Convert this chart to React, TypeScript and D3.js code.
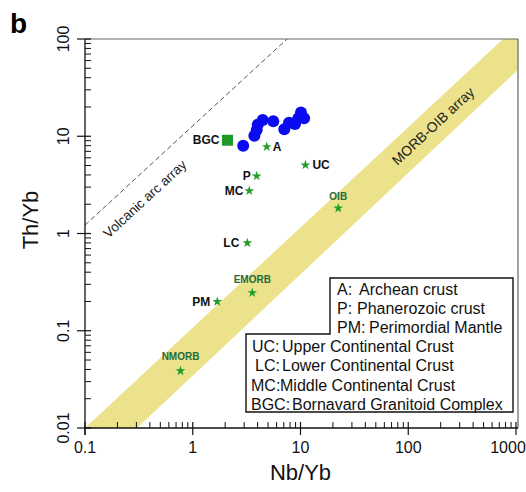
import * as d3 from "d3";

const W = 526;
const H = 492;
const m = { top: 39, right: 10, bottom: 64, left: 85 };

// axes
const X_TICKS = [0.1, 1, 10, 100, 1000];
const X_TICK_LABELS = ["0.1", "1", "10", "100", "1000"];
const Y_TICKS = [0.01, 0.1, 1, 10, 100];
const Y_TICK_LABELS = ["0.01", "0.1", "1", "10", "100"];

// samples (blue dots)
const sampleNb = [2.94, 3.73, 3.92, 4.01, 4.46, 5.59, 7.07, 7.82, 8.89, 10.1, 10.8, 9.54];
const sampleTh = [8.0, 10.1, 11.6, 13.1, 14.7, 14.3, 11.8, 13.8, 13.4, 17.5, 15.3, 15.3];

// BGC average (square)
const bgcNb = 2.1;
const bgcTh = 9.1;

// reference compositions (stars)
const refNames = ["A", "UC", "P", "MC", "LC", "PM", "EMORB", "OIB", "NMORB"];
const refNb = [4.86, 11.1, 3.92, 3.35, 3.21, 1.69, 3.57, 22.4, 0.77];
const refTh = [7.8, 5.06, 3.9, 2.75, 0.8, 0.199, 0.246, 1.82, 0.0386];

// MORB-OIB array boundaries
const bandUpperNb = [0.1, 757];
const bandUpperTh = [0.01, 100];
const bandLowerNb = [0.304, 1000];
const bandLowerTh = [0.01, 51.5];

// volcanic arc array line
const arcNb = [0.1, 7.5];
const arcTh = [1.22, 100];

// legend
const legendTop = ["A:", "P:", "PM:"];
const legendTopText = ["Archean crust", "Phanerozoic crust", "Perimordial Mantle"];
const legendBottom = ["UC:", "LC:", "MC:", "BGC:"];
const legendBottomText = ["Upper Continental Crust", "Lower Continental Crust", "Middle Continental Crust", "Bornavard Granitoid Complex"];

const labelStyle: Record<string, { dx: number; dy: number; anchor: string; green?: boolean }> = {
  A: { dx: 6, dy: 0, anchor: "start" },
  UC: { dx: 7, dy: 0, anchor: "start" },
  P: { dx: -6, dy: 0, anchor: "end" },
  MC: { dx: -6, dy: 0, anchor: "end" },
  LC: { dx: -8, dy: 0, anchor: "end" },
  PM: { dx: -7, dy: 0, anchor: "end" },
  EMORB: { dx: 0, dy: -13, anchor: "middle", green: true },
  OIB: { dx: 0, dy: -12, anchor: "middle", green: true },
  NMORB: { dx: 0, dy: -14, anchor: "middle", green: true },
};

const FONT = "'Liberation Sans', Arial, sans-serif";

export default function App() {
  const x = d3.scaleLog().domain([0.1, 1000]).range([m.left, W - m.right]);
  const y = d3.scaleLog().domain([0.01, 100]).range([H - m.bottom, m.top]);
  const x0 = x.range()[0], x1 = x.range()[1];
  const y0 = y.range()[0], y1 = y.range()[1];

  const minors = (ticks: number[]) =>
    ticks.slice(0, -1).flatMap((d) => d3.range(2, 10).map((k) => d * k));
  const xMinor = minors(X_TICKS);
  const yMinor = minors(Y_TICKS);

  const bandPts: [number, number][] = [
    [x(bandUpperNb[0]), y(bandUpperTh[0])],
    [x(bandUpperNb[1]), y(bandUpperTh[1])],
    [x(1000) + 5, y(100)],
    [x(bandLowerNb[1]) + 5, y(bandLowerTh[1])],
    [x(bandLowerNb[0]), y(bandLowerTh[0])],
  ];
  const bandPath = d3.line()(bandPts) + "Z";

  const arcPath = d3.line()(arcNb.map((v, i) => [x(v), y(arcTh[i])] as [number, number]));

  const ang = (ax: number, ay: number, bx: number, by: number) => (Math.atan2(by - ay, bx - ax) * 180) / Math.PI;
  const bandAng = ang(x(bandUpperNb[0]), y(bandUpperTh[0]), x(bandUpperNb[1]), y(bandUpperTh[1]));
  const arcAng = ang(x(arcNb[0]), y(arcTh[0]), x(arcNb[1]), y(arcTh[1]));

  const star = d3.symbol().type(d3.symbolStar).size(30)();

  return (
    <svg width={W} height={H} style={{ position: "absolute", left: 0, top: 0, background: "#fff" }} fontFamily={FONT}>
      <defs>
        <clipPath id="plot">
          <rect x={x0} y={y1} width={x1 - x0 + 2} height={y0 - y1} />
        </clipPath>
      </defs>

      <text x={10} y={33} fontSize={28} fontWeight="bold" fill="#000">b</text>

      <g clipPath="url(#plot)">
        <path d={bandPath} fill="#ede28c" />
        <path d={arcPath ?? ""} fill="none" stroke="#555" strokeWidth={1} strokeDasharray="5,3" />
      </g>

      <text
        transform={`translate(433,126) rotate(${bandAng})`}
        textAnchor="middle"
        dominantBaseline="central"
        fontSize={14}
        fill="#222"
      >
        MORB-OIB array
      </text>
      <text
        transform={`translate(145,199) rotate(${arcAng})`}
        textAnchor="middle"
        dominantBaseline="central"
        fontSize={13.5}
        fill="#222"
      >
        Volcanic arc array
      </text>

      {/* frame */}
      <line x1={x0} x2={x1 + 2} y1={y1} y2={y1} stroke="#666" strokeWidth={1.2} />
      <line x1={x1 + 2} x2={x1 + 2} y1={y1} y2={y0} stroke="#666" strokeWidth={1.2} />

      {/* x axis */}
      <line x1={x0} x2={x1 + 2} y1={y0} y2={y0} stroke="#111" strokeWidth={1.3} />
      {xMinor.map((v) => (
        <line key={"xm" + v} x1={x(v)} x2={x(v)} y1={y0} y2={y0 - 6} stroke="#111" strokeWidth={1} />
      ))}
      {X_TICKS.map((v, i) => (
        <g key={"xt" + v}>
          <line x1={x(v)} x2={x(v)} y1={y0 + 7} y2={y0 - 6} stroke="#111" strokeWidth={1.2} />
          <text x={x(v) - (i === X_TICKS.length - 1 ? 8 : 0)} y={y0 + 25} textAnchor="middle" fontSize={16} fill="#111">
            {X_TICK_LABELS[i]}
          </text>
        </g>
      ))}
      <text x={(x0 + x1) / 2} y={y0 + 52} textAnchor="middle" fontSize={22} fill="#111">Nb/Yb</text>

      {/* y axis */}
      <line x1={x0} x2={x0} y1={y1} y2={y0 + 7} stroke="#111" strokeWidth={1.3} />
      {yMinor.map((v) => (
        <line key={"ym" + v} x1={x0} x2={x0 + 6} y1={y(v)} y2={y(v)} stroke="#111" strokeWidth={1} />
      ))}
      {Y_TICKS.map((v, i) => (
        <g key={"yt" + v}>
          <line x1={x0 - 8} x2={x0 + 6} y1={y(v)} y2={y(v)} stroke="#111" strokeWidth={1.2} />
          <text
            transform={`translate(${x0 - 22},${y(v)}) rotate(-90)`}
            textAnchor="middle"
            dominantBaseline="central"
            fontSize={16}
            fill="#111"
          >
            {Y_TICK_LABELS[i]}
          </text>
        </g>
      ))}
      <text transform="translate(30,220) rotate(-90)" textAnchor="middle" dominantBaseline="central" fontSize={22} fill="#111">
        Th/Yb
      </text>

      {/* samples */}
      {sampleNb.map((v, i) => (
        <circle key={"s" + i} cx={x(v)} cy={y(sampleTh[i])} r={6} fill="#0b0bf0" />
      ))}

      {/* BGC */}
      <rect x={x(bgcNb) - 5.5} y={y(bgcTh) - 5.5} width={11} height={11} fill="#1f9a2a" />
      <text x={x(bgcNb) - 8} y={y(bgcTh)} textAnchor="end" dominantBaseline="central" fontSize={12} fontWeight="bold" fill="#111">
        BGC
      </text>

      {/* reference stars */}
      {refNames.map((n, i) => {
        const s = labelStyle[n];
        const cx = x(refNb[i]);
        const cy = y(refTh[i]);
        return (
          <g key={n}>
            <path d={star ?? ""} transform={`translate(${cx},${cy})`} fill="#1f9e2a" />
            <text
              x={cx + s.dx}
              y={cy + s.dy}
              textAnchor={s.anchor}
              dominantBaseline="central"
              fontSize={s.green ? 10 : 12}
              fontWeight="bold"
              fill={s.green ? "#236b3a" : "#111"}
            >
              {n}
            </text>
          </g>
        );
      })}

      {/* legend */}
      <path d="M330,278 H513 V412 H246 V334 H330 Z" fill="#fff" stroke="#111" strokeWidth={1.4} />
      {legendTop.map((k, i) => (
        <g key={k} fontSize={16} fill="#111">
          <text x={337} y={289 + i * 19 + 5.5}>{k}</text>
          <text x={[359, 357, 369][i]} y={289 + i * 19 + 5.5}>{legendTopText[i]}</text>
        </g>
      ))}
      {legendBottom.map((k, i) => (
        <g key={k} fontSize={16} fill="#111">
          <text x={[252, 255, 251, 251][i]} y={346 + i * 19.5 + 5.5}>{k}</text>
          <text x={[282, 282, 280, 292][i]} y={346 + i * 19.5 + 5.5}>{legendBottomText[i]}</text>
        </g>
      ))}
    </svg>
  );
}
